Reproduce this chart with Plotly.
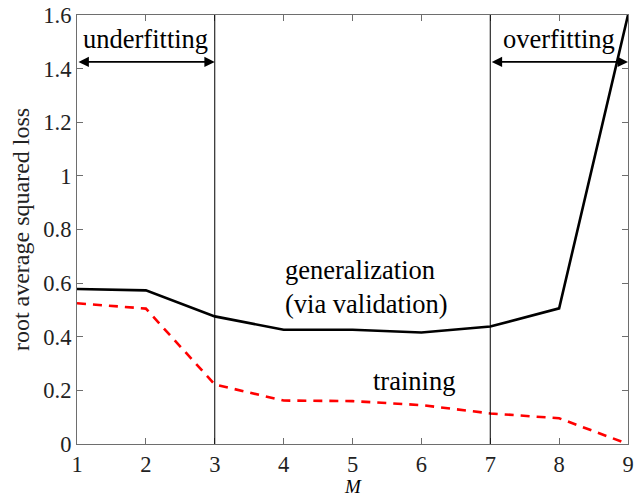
import plotly.graph_objects as go

# model complexity M and the losses measured at each value
M = [1, 2, 3, 4, 5, 6, 7, 8, 9]
generalization_loss = [0.578, 0.573, 0.476, 0.426, 0.426, 0.416, 0.438, 0.506, 1.60]
training_loss = [0.525, 0.505, 0.222, 0.162, 0.160, 0.145, 0.114, 0.096, 0.0]

x_ticks = [1, 2, 3, 4, 5, 6, 7, 8, 9]
y_ticks = [0, 0.2, 0.4, 0.6, 0.8, 1.0, 1.2, 1.4, 1.6]
y_tick_labels = ["0", "0.2", "0.4", "0.6", "0.8", "1", "1.2", "1.4", "1.6"]

# regime boundaries and the extent of each regime
boundaries = [3, 7]
regimes = [("underfitting", 1, 3), ("overfitting", 7, 9)]
arrow_level = 1.425
regime_label_level = 1.51

FONT = "Liberation Serif, Times New Roman, serif"

fig = go.Figure()

fig.add_trace(go.Scatter(
    x=M, y=generalization_loss, mode="lines",
    line=dict(color="black", width=2.6),
    showlegend=False, cliponaxis=True,
))
fig.add_trace(go.Scatter(
    x=M, y=training_loss, mode="lines",
    line=dict(color="#ff0000", width=2.6, dash="9px,7px"),
    showlegend=False, cliponaxis=True,
))

for b in boundaries:
    fig.add_shape(type="line", x0=b, x1=b, y0=0, y1=1.6, xref="x", yref="y",
                  line=dict(color="black", width=1))

annotations = []
for label, x0, x1 in regimes:
    annotations.append(dict(
        x=x1, y=arrow_level, ax=x0, ay=arrow_level, xref="x", yref="y",
        axref="x", ayref="y", text="", showarrow=True,
        arrowhead=2, startarrowhead=2, arrowside="end+start",
        arrowsize=1.3, arrowwidth=1.6, arrowcolor="black",
        standoff=0, startstandoff=0,
    ))
    annotations.append(dict(
        x=(x0 + x1) / 2, y=regime_label_level, xref="x", yref="y",
        text=label, showarrow=False,
        font=dict(family=FONT, size=26.5, color="black"),
    ))

annotations += [
    dict(x=5.2, y=0.585, xref="x", yref="y",
         text="generalization<br>(via validation)", showarrow=False, align="left",
         font=dict(family=FONT, size=26.5, color="black")),
    dict(x=5.9, y=0.235, xref="x", yref="y", text="training", showarrow=False,
         font=dict(family=FONT, size=26.5, color="black")),
    dict(x=0.5, y=-0.126, xref="paper", yref="paper", text="<i>M</i>",
         showarrow=False, yanchor="bottom", borderpad=0,
         font=dict(family=FONT, size=19, color="black")),
]

axis_common = dict(
    showgrid=False, zeroline=False, showline=True, linecolor="#6e6e6e",
    linewidth=1.2, mirror="ticks", ticks="inside", ticklen=6,
    tickwidth=1, tickcolor="#6e6e6e", automargin=False,
    tickfont=dict(family=FONT, size=22.5, color="#222222"),
)

fig.update_layout(
    width=635, height=498,
    margin=dict(l=77, r=7, t=15, b=54),
    paper_bgcolor="white", plot_bgcolor="white",
    xaxis=dict(range=[1, 9], tickvals=x_ticks, **axis_common),
    yaxis=dict(range=[0, 1.6], tickvals=y_ticks, ticktext=y_tick_labels,
               title=dict(text="root average squared loss",
                          font=dict(family=FONT, size=24, color="#222222"),
                          standoff=6),
               **axis_common),
    annotations=annotations,
)

fig.write_html("out.html")
